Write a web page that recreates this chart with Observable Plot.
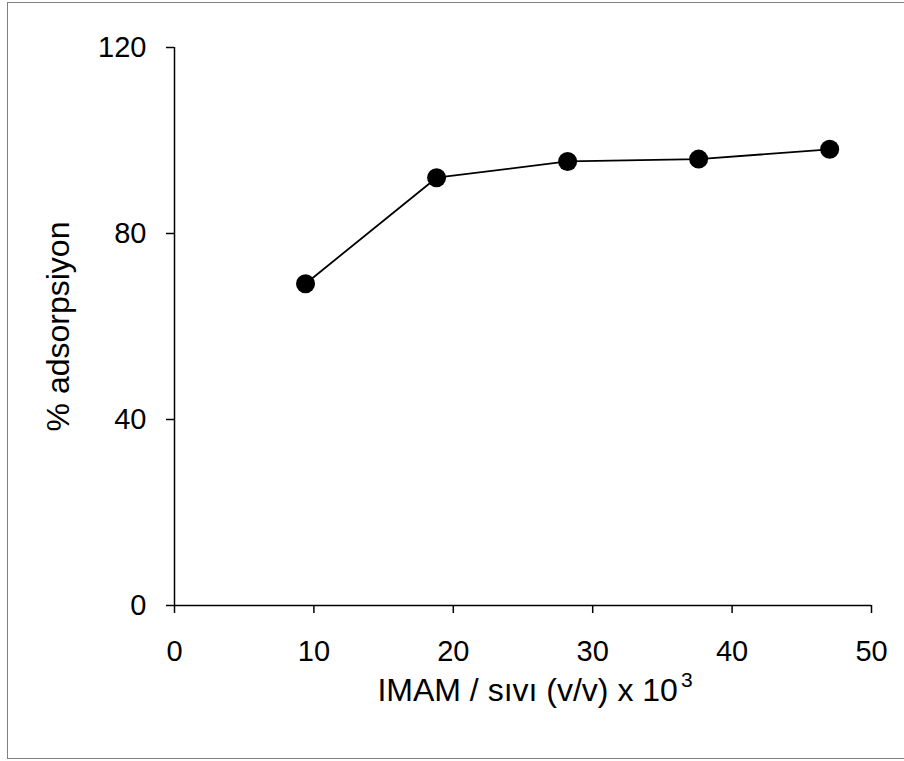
<!DOCTYPE html>
<html><head><meta charset="utf-8">
<script src="https://cdn.jsdelivr.net/npm/d3@7"></script>
<script src="https://cdn.jsdelivr.net/npm/@observablehq/plot@0.6"></script>
<style>
body{margin:0;background:#fff}
#wrap{position:relative;width:904px;height:761px}
#frame{position:absolute;left:7px;top:2px;width:900px;height:755px;border:1px solid #808080;pointer-events:none}
</style>
</head><body>
<div id="wrap"><div id="chart"></div><div id="frame"></div></div>
<script>
const ratio = [9.4, 18.8, 28.2, 37.6, 47.0];
const adsorption = [69.2, 92.0, 95.5, 96.0, 98.1];
const xTicks = [0, 10, 20, 30, 40, 50];
const yTicks = [0, 40, 80, 120];
const xLabelMain = "IMAM / sıvı (v/v) x 10";
const xLabelSup = "3";
const yLabel = "% adsorpsiyon";

const data = ratio.map((x, i) => ({x, y: adsorption[i]}));

const plot = Plot.plot({
  width: 904,
  height: 761,
  marginLeft: 174,
  marginRight: 33,
  marginTop: 47,
  marginBottom: 156,
  style: {fontFamily: "'Liberation Sans', Arial, sans-serif", color: "#000", background: "transparent"},
  x: {domain: [0, 50]},
  y: {domain: [0, 120]},
  marks: [
    Plot.axisX({ticks: xTicks, tickSize: 8, tickPadding: 27, fontSize: 29, strokeWidth: 1.5, label: null}),
    Plot.axisY({ticks: yTicks, tickSize: 8, tickPadding: 20, fontSize: 29, strokeWidth: 1.5, label: null}),
    Plot.ruleY([0], {stroke: "#000", strokeWidth: 1.5}),
    Plot.ruleX([0], {stroke: "#000", strokeWidth: 1.5}),
    Plot.line(data, {x: "x", y: "y", stroke: "#000", strokeWidth: 1.8}),
    Plot.dot(data, {x: "x", y: "y", r: 9.5, fill: "#000", stroke: "none"}),
    Plot.text([yLabel], {frameAnchor: "left", textAnchor: "middle", lineAnchor: "middle", rotate: -90, dx: -116, fontSize: 32, fill: "#000"}),
    Plot.text([xLabelMain + xLabelSup], {frameAnchor: "bottom", textAnchor: "middle", lineAnchor: "middle", dx: 12, dy: 85, fontSize: 32, fill: "#000", className: "xlab"})
  ]
});
// render the exponent as a raised, smaller tspan
const t = plot.querySelector(".xlab text");
if (t) {
  t.textContent = "";
  const ns = "http://www.w3.org/2000/svg";
  const a = document.createElementNS(ns, "tspan");
  a.textContent = xLabelMain;
  const b = document.createElementNS(ns, "tspan");
  b.textContent = xLabelSup;
  b.setAttribute("font-size", "21");
  b.setAttribute("dy", "-14");
  b.setAttribute("dx", "3");
  t.appendChild(a);
  t.appendChild(b);
}
document.getElementById("chart").appendChild(plot);
</script>
</body></html>
